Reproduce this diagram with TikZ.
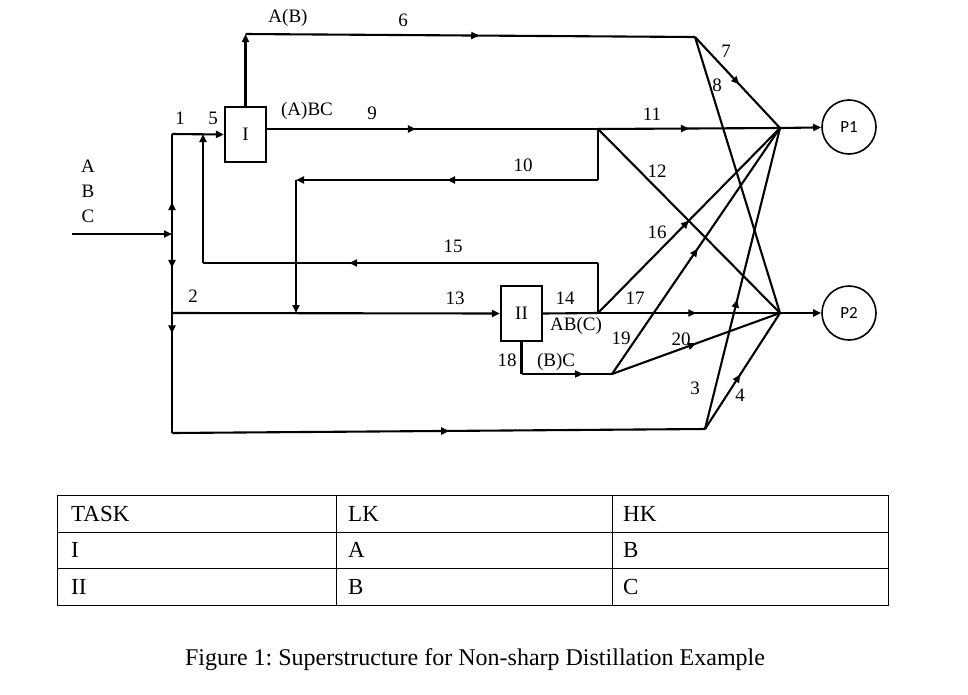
\documentclass[tikz,border=0pt]{standalone}
\usepackage{fontspec}
\setmainfont{Liberation Serif}
\newfontfamily\pfont{Carlito}
\usepackage{tikz}
\usetikzlibrary{arrows.meta,decorations.markings}
\frenchspacing

\begin{document}
\begin{tikzpicture}[x=1pt,y=-1pt,>={Triangle[length=8pt,width=7pt]},
  flow/.style={line width=2.1pt},
  midarr/.style={postaction={decorate},decoration={markings,
    mark=at position #1 with {\arrow{Triangle[length=8pt,width=7pt]}}}},
  unit/.style={draw,line width=2.1pt,minimum width=41pt,minimum height=55pt,inner sep=0pt,font=\fontsize{19}{22}\selectfont},
  prod/.style={circle,draw,line width=1.6pt,minimum size=54pt,inner sep=0pt,font=\pfont\fontsize{17}{20}\selectfont},
  lbl/.style={inner sep=0pt,font=\fontsize{19}{22}\selectfont},
  cell/.style={anchor=west,inner sep=0pt,font=\fontsize{23}{27}\selectfont}]
  \useasboundingbox (0,0) rectangle (968,694);

  % columns and products
  \node[unit] (unitI) at (245.5,134.5) {I};
  \node[unit] (unitII) at (521.5,313.5) {II};
  \node[prod] (P1) at (849,127) {P1};
  \node[prod] (P2) at (849,313) {P2};

  % split and mix points
  \coordinate (feed) at (72,234);
  \coordinate (J0) at (172,234);
  \coordinate (J1) at (172,134);
  \coordinate (J2) at (172,313);
  \coordinate (J3) at (172,433);
  \coordinate (topA) at (245.5,34);
  \coordinate (S6) at (695,37);
  \coordinate (S1) at (598,129);
  \coordinate (S2) at (598,313);
  \coordinate (S3) at (612,374);
  \coordinate (S4) at (705,429);
  \coordinate (M1) at (780,128);
  \coordinate (M2) at (780,313);
  \coordinate (R10a) at (598,180);
  \coordinate (R10b) at (296,180);
  \coordinate (R10c) at (296,313);
  \coordinate (R15a) at (598,263);
  \coordinate (R15b) at (203,263);
  \coordinate (R15c) at (203,134);
  \coordinate (B18) at (521.5,374);

  % feed and bypass
  \draw[flow,->] (feed) -- (J0);
  \draw[flow,midarr=0.32] (J0) -- (J1);
  \draw[flow,midarr=0.43] (J0) -- (J2);
  \draw[flow,midarr=0.17] (J2) -- (J3);
  \draw[flow,->] (J1) -- (unitI.west);
  \draw[flow,->] (J2) -- (unitII.west);
  \draw[flow,midarr=0.52] (J3) -- (S4);
  \draw[flow,midarr=0.43] (S4) -- (M1);
  \draw[flow,midarr=0.47] (S4) -- (M2);

  % column I
  \draw[flow,->] (unitI.north) -- (topA);
  \draw[flow,midarr=0.52] (topA) -- (S6);
  \draw[flow,midarr=0.52] (S6) -- (M1);
  \draw[flow] (S6) -- (M2);
  \draw[flow,midarr=0.45] (unitI.east |- S1) -- (S1);
  \draw[flow,midarr=0.5] (S1) -- (M1);
  \draw[flow] (S1) -- (M2);
  \draw[flow] (S1) -- (R10a);
  \draw[flow,midarr=0.5,->] (R10a) -- (R10b);
  \draw[flow,->] (R10b) -- (R10c);

  % column II
  \draw[flow] (unitII.east) -- (S2);
  \draw[flow,midarr=0.54] (S2) -- (M2);
  \draw[flow,midarr=0.5] (S2) -- (M1);
  \draw[flow] (S2) -- (R15a);
  \draw[flow,midarr=0.63] (R15a) -- (R15b);
  \draw[flow,->] (R15b) -- (R15c);
  \draw[flow] (unitII.south) -- (B18);
  \draw[flow,midarr=0.68] (B18) -- (S3);
  \draw[flow,midarr=0.51] (S3) -- (M1);
  \draw[flow,midarr=0.5] (S3) -- (M2);

  % to products
  \draw[flow,->] (M1) -- (P1);
  \draw[flow,->] (M2) -- (P2);

  % stream labels
  \node[lbl] (lA) at (88,166) {A};
  \node[lbl] (lB) at (88,191) {B};
  \node[lbl] (lC) at (88,216) {C};
  \node[lbl] (l1) at (180,118) {1};
  \node[lbl] (l5) at (213,118) {5};
  \node[lbl] (lAB) at (288,18) {A(B)};
  \node[lbl] (l6) at (403,20) {6};
  \node[lbl] (lABC) at (307,111) {(A)BC};
  \node[lbl] (l9) at (372,113) {9};
  \node[lbl] (l7) at (726,51) {7};
  \node[lbl] (l8) at (717,85) {8};
  \node[lbl] (l11) at (652,114) {11};
  \node[lbl] (l10) at (523,165) {10};
  \node[lbl] (l12) at (657,171) {12};
  \node[lbl] (l16) at (657,232) {16};
  \node[lbl] (l15) at (453,246) {15};
  \node[lbl] (l2) at (193,296) {2};
  \node[lbl] (l13) at (455,298) {13};
  \node[lbl] (l14) at (565,298) {14};
  \node[lbl] (l17) at (635,298) {17};
  \node[lbl] (lABc) at (576,326) {AB(C)};
  \node[lbl] (l19) at (621,338) {19};
  \node[lbl] (l20) at (681,339) {20};
  \node[lbl] (l18) at (507,360) {18};
  \node[lbl] (lBC) at (556,362) {(B)C};
  \node[lbl] (l3) at (695,388) {3};
  \node[lbl] (l4) at (740,395) {4};

  % task table
  \draw[line width=1pt] (57,495) rectangle (888,605);
  \draw[line width=1pt] (57,532) -- (888,532) (57,568) -- (888,568)
    (336,495) -- (336,605) (612,495) -- (612,605);
  \node[cell] (tTask) at (71,514) {TASK};
  \node[cell] (tLK) at (348,514) {LK};
  \node[cell] (tHK) at (623,514) {HK};
  \node[cell] (tI) at (71,550) {I};
  \node[cell] (tIA) at (348,550) {A};
  \node[cell] (tIB) at (623,550) {B};
  \node[cell] (tII) at (71,587) {II};
  \node[cell] (tIIB) at (348,587) {B};
  \node[cell] (tIIC) at (623,587) {C};

  \node[inner sep=0pt,font=\fontsize{24}{28}\selectfont] (caption) at (475,660)
    {Figure 1: Superstructure for Non-sharp Distillation Example};
\end{tikzpicture}
\end{document}
